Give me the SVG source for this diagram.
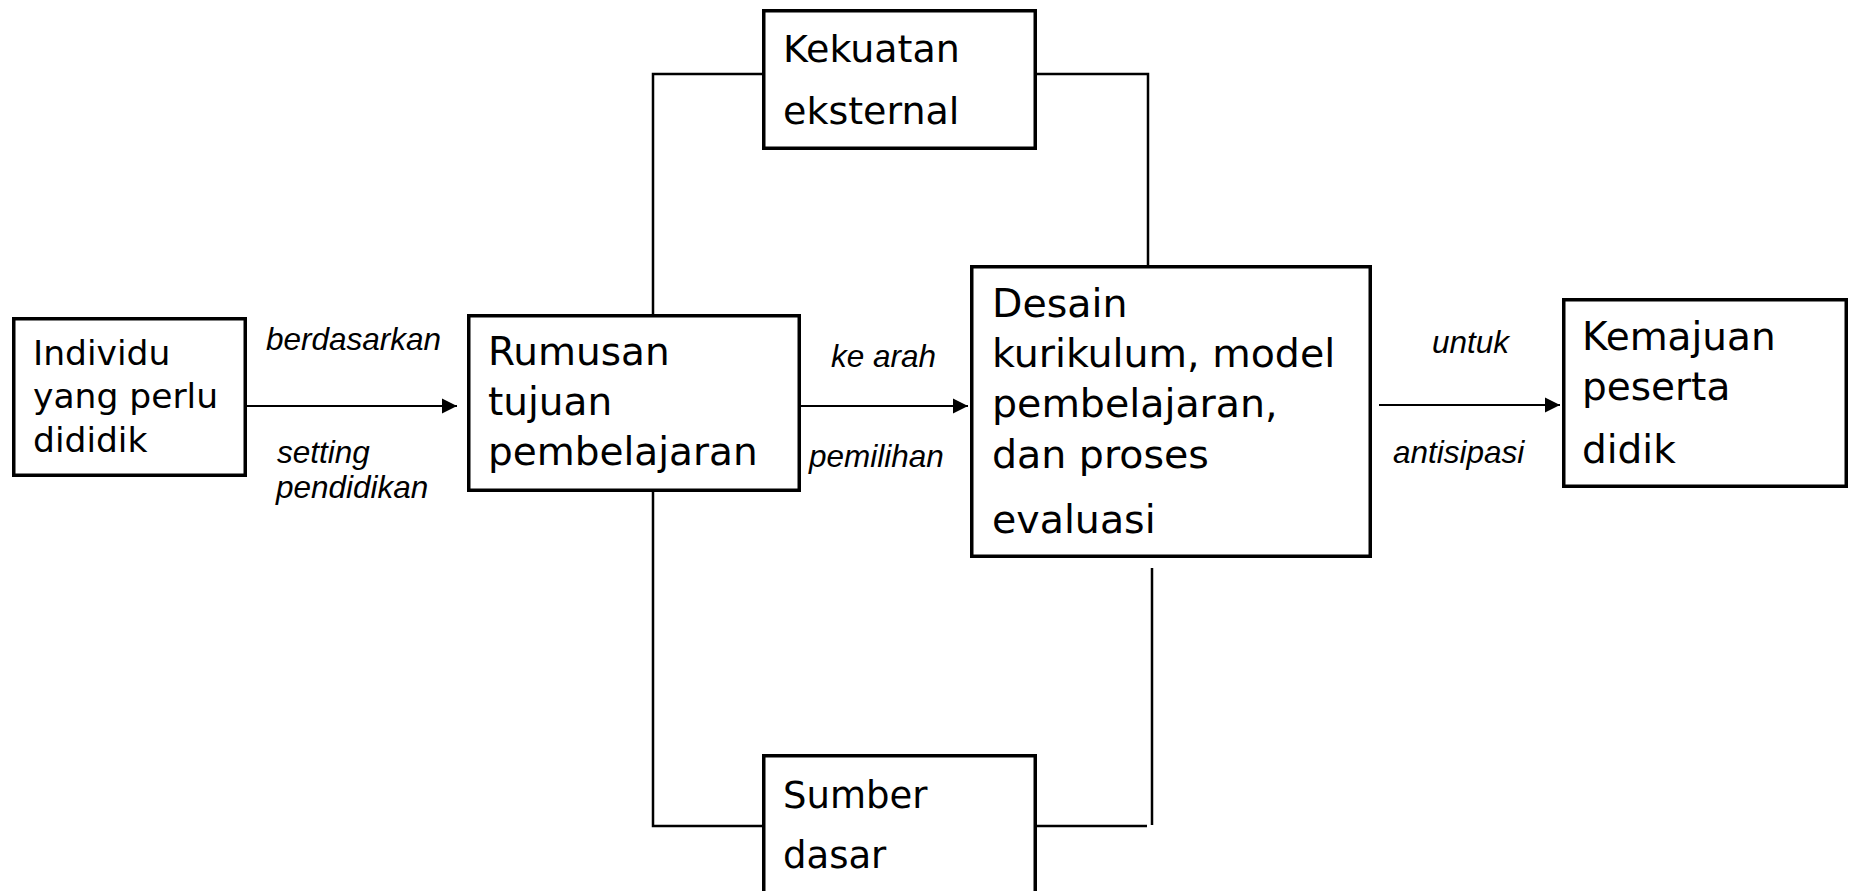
<svg xmlns="http://www.w3.org/2000/svg" width="1852" height="891" viewBox="0 0 1852 891">
<defs>
<marker id="ah" markerUnits="userSpaceOnUse" markerWidth="16" markerHeight="16" viewBox="0 0 16 16" refX="15" refY="8" orient="auto">
<path d="M0,0.5 L15,8 L0,15.5 Z" fill="#000"/>
</marker>
<style>
.box{fill:#fff;stroke:#000;stroke-width:3.5}
.t{font-family:"DejaVu Sans",sans-serif;fill:#000}
.lab{font-family:"Liberation Sans",Arial,sans-serif;font-style:italic;font-size:31.5px;fill:#000}
.con{fill:none;stroke:#000;stroke-width:2.5}
.arr{fill:none;stroke:#000;stroke-width:2.2}
</style>
</defs>
<rect width="1852" height="891" fill="#fff"/>
<g id="connectors">
<polyline class="con" points="653,314 653,74 763,74"/>
<polyline class="con" points="1037,74 1148,74 1148,266"/>
<polyline class="con" points="653,491 653,826 763,826"/>
<polyline class="con" points="1037,826 1147,826"/>
<line class="con" x1="1152" y1="568" x2="1152" y2="825"/>
<line class="arr" x1="247" y1="406" x2="457" y2="406" marker-end="url(#ah)"/>
<line class="arr" x1="801" y1="406" x2="968" y2="406" marker-end="url(#ah)"/>
<line class="arr" x1="1379" y1="405" x2="1560" y2="405" marker-end="url(#ah)"/>
<text class="lab" x="266" y="350">berdasarkan</text>
<text class="lab" x="277" y="463">setting</text>
<text class="lab" x="276" y="498">pendidikan</text>
<text class="lab" x="831" y="367">ke arah</text>
<text class="lab" x="809" y="467">pemilihan</text>
<text class="lab" x="1432" y="353">untuk</text>
<text class="lab" x="1393" y="463">antisipasi</text>
</g>
<g id="individu">
<rect class="box" x="13.75" y="318.75" width="231.5" height="156.5"/>
<text class="t" font-size="34.5" x="33" y="365">Individu</text>
<text class="t" font-size="34.5" x="33" y="408">yang perlu</text>
<text class="t" font-size="34.5" x="33" y="452">dididik</text>
</g>
<g id="rumusan">
<rect class="box" x="468.75" y="315.75" width="330.5" height="174.5"/>
<text class="t" font-size="39" x="488" y="365">Rumusan</text>
<text class="t" font-size="39" x="488" y="415">tujuan</text>
<text class="t" font-size="39" x="488" y="465">pembelajaran</text>
</g>
<g id="desain">
<rect class="box" x="971.75" y="266.75" width="398.5" height="289.5"/>
<text class="t" font-size="39.5" x="992" y="317">Desain</text>
<text class="t" font-size="39.5" x="992" y="367">kurikulum, model</text>
<text class="t" font-size="39.5" x="992" y="417">pembelajaran,</text>
<text class="t" font-size="39.5" x="992" y="468">dan proses</text>
<text class="t" font-size="39.5" x="992" y="533">evaluasi</text>
</g>
<g id="kemajuan">
<rect class="box" x="1563.75" y="299.75" width="282.5" height="186.5"/>
<text class="t" font-size="39" x="1582" y="350">Kemajuan</text>
<text class="t" font-size="39" x="1582" y="400">peserta</text>
<text class="t" font-size="39" x="1582" y="463">didik</text>
</g>
<g id="kekuatan">
<rect class="box" x="763.75" y="10.75" width="271.5" height="137.5"/>
<text class="t" font-size="38" x="783" y="62">Kekuatan</text>
<text class="t" font-size="38" x="783" y="124">eksternal</text>
</g>
<g id="sumber">
<rect class="box" x="763.75" y="755.75" width="271.5" height="200"/>
<text class="t" font-size="37" x="783" y="808">Sumber</text>
<text class="t" font-size="37" x="783" y="868">dasar</text>
</g>
</svg>
